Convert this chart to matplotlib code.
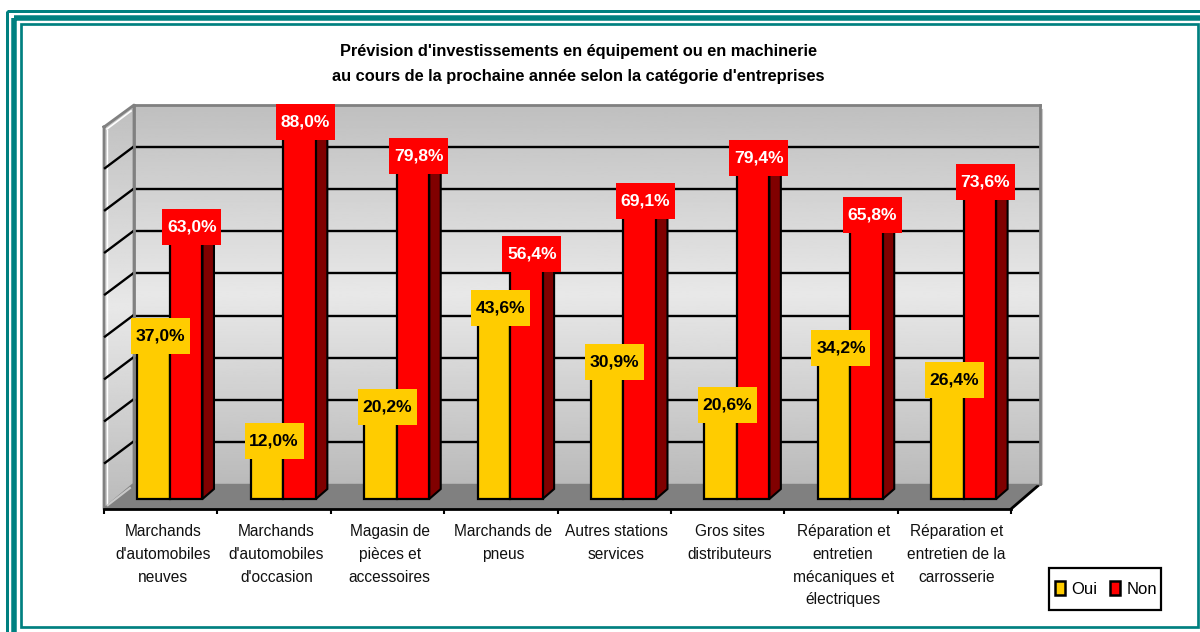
import numpy as np
import matplotlib
matplotlib.use('Agg')
import matplotlib.pyplot as plt
from matplotlib.patches import Rectangle, Polygon
from matplotlib.path import Path

plt.rcParams['font.family'] = ['Liberation Sans', 'DejaVu Sans']

# data
categories = ["Marchands\nd'automobiles\nneuves", "Marchands\nd'automobiles\nd'occasion",
              "Magasin de\npièces et\naccessoires", "Marchands de\npneus",
              "Autres stations\nservices", "Gros sites\ndistributeurs",
              "Réparation et\nentretien\nmécaniques et\nélectriques",
              "Réparation et\nentretien de la\ncarrosserie"]
oui = [37.0, 12.0, 20.2, 43.6, 30.9, 20.6, 34.2, 26.4]
non = [63.0, 88.0, 79.8, 56.4, 69.1, 79.4, 65.8, 73.6]
wall_ticks = [0, 10, 20, 30, 40, 50, 60, 70, 80, 90]
title = "Prévision d'investissements en équipement ou en machinerie\nau cours de la prochaine année selon la catégorie d'entreprises"

W, H = 1200, 632
YELLOW = '#FFCC00'
RED = '#FF0000'
DARK = '#800000'
TEAL = '#008080'
GREY = '#808080'

def pos(x0, x1, ytop, ybot):
    # pixel box to figure fractions
    return [x0 / W, 1 - ybot / H, (x1 - x0) / W, (ybot - ytop) / H]

def label_box(x0, y0, width, height, mutation_size):
    # data labels are 59x36 px whatever the text is
    cx = x0 + width / 2
    cy = y0 + height / 2
    a, b = cx - 29.5, cx + 29.5
    c, d = cy - 18, cy + 18
    return Path([(a, c), (b, c), (b, d), (a, d), (a, c)], closed=True)

fig = plt.figure(figsize=(12, 6.32), dpi=100, facecolor='white')

# background in pixels: frame, floor, side wall
bg = fig.add_axes([0, 0, 1, 1], zorder=0)
bg.set_xlim(0, W)
bg.set_ylim(H, 0)
bg.axis('off')

for x0, y0, x1, y1, lw in [(7, 10.7, 1220, 650, 3), (13.5, 17.5, 1220, 634, 5.5), (20.5, 24.3, 1197.5, 627, 2.7)]:
    bg.add_patch(Rectangle((x0, y0), x1 - x0, y1 - y0, fill=False, ec=TEAL, lw=lw * 0.72))

# gradient used by the walls
stops = np.array([0.75, 0.91, 0.73])
grad = np.interp(np.linspace(0, 1, 256), [0, 0.5, 1], stops).reshape(-1, 1)

side = bg.imshow(grad, cmap='gray', vmin=0, vmax=1, aspect='auto', extent=(104, 134, 509, 105), zorder=1)
side_poly = Polygon([(104, 127), (134, 105), (134, 484), (104, 509)], closed=True, fc='none', ec='none')
bg.add_patch(side_poly)
side.set_clip_path(side_poly)
bg.set_xlim(0, W)
bg.set_ylim(H, 0)
bg.plot([104, 134, 134, 104, 104], [127, 105, 484, 509, 127], color=GREY, lw=2, zorder=3)
bg.plot([107, 131], [129, 111], color='white', lw=1.2, zorder=3)
bg.plot([106.5, 106.5], [130, 505], color='white', lw=1, zorder=3)
bg.plot([108, 130], [505, 488], color='#c8c8c8', lw=1.5, zorder=3)

# floor
bg.add_patch(Polygon([(104, 509), (134, 484), (1040, 484), (1011, 509)], closed=True, fc=GREY, ec='none', zorder=2))
bg.plot([1011, 1040], [509, 484], color='black', lw=2, zorder=4)

# back wall
wall = fig.add_axes(pos(134, 1040, 105, 484), zorder=1)
wall.imshow(grad, cmap='gray', vmin=0, vmax=1, aspect='auto', extent=(0, 1, 0, 90), zorder=0)
wall.set_xlim(0, 1)
wall.set_ylim(0, 90)
wall.set_xticks([])
wall.set_yticks(wall_ticks[1:-1])
wall.tick_params(length=0, labelleft=False)
wall.grid(axis='y', color='black', lw=1.7, zorder=1)
for s in wall.spines.values():
    s.set_color(GREY)
    s.set_linewidth(2)
wall.spines['bottom'].set_linewidth(1)
bg.plot([1042, 1042], [110, 484], color='#c8c8c8', lw=1.5, zorder=1)

# side wall gridlines follow the same ticks
for t in wall_ticks[1:-1]:
    yb = 484 - t * 379 / 90
    bg.plot([105, 133], [yb + 21, yb], color='black', lw=1.7, zorder=3)

# bars, data units
px_y = 4.2
ax = fig.add_axes(pos(104, 1011, 105, 509), zorder=2)
ax.patch.set_alpha(0)
ax.set_xlim(-0.5, 7.5)
ax.set_ylim(-10 / px_y, 394 / px_y)
x = np.arange(len(categories))
w = 32.5 / 113.4
off = 9.3 / 113.4
dx = 11.5 / 113.4
dy = 10 / px_y

for xi, v in zip(x, non):
    r = xi + off + w
    ax.fill([r, r + dx, r + dx, r], [0, dy, v + dy, v], fc=DARK, ec='black', lw=1.5, zorder=2)
b1 = ax.bar(x + off - w / 2, oui, w, color=YELLOW, edgecolor='black', lw=1.6, zorder=3, label='Oui')
b2 = ax.bar(x + off + w / 2, non, w, color=RED, edgecolor='black', lw=1.6, zorder=3, label='Non')

def lab(v):
    return f'{v:.1f}%'.replace('.', ',')

for xi, v in zip(x, oui):
    ax.annotate(lab(v), (xi + off - w / 2, v), xytext=(5.0, 5.5), textcoords='offset points', ha='center', va='center',
                fontsize=12.6, fontweight='bold', color='black', zorder=5,
                bbox=dict(boxstyle=label_box, fc=YELLOW, ec='none'))
for xi, v in zip(x, non):
    ax.annotate(lab(v), (xi + off + w / 2, v), xytext=(4.0, 5.5), textcoords='offset points', ha='center', va='center',
                fontsize=12.6, fontweight='bold', color='white', zorder=5,
                bbox=dict(boxstyle=label_box, fc=RED, ec='none'))

for s in ['top', 'left', 'right']:
    ax.spines[s].set_visible(False)
ax.spines['bottom'].set_linewidth(2)
ax.set_yticks([])
ax.set_xticks(x + 0.02)
ax.set_xticklabels(categories, fontsize=11.2, color='#111111', linespacing=1.64)
ax.tick_params(axis='x', which='major', length=0, pad=11)
ax.set_xticks(np.arange(-0.5, 8, 1), minor=True)
ax.tick_params(axis='x', which='minor', length=3.5, width=1.5, color='black')

fig.text(578.5 / W, 1 - 64 / H, title, ha='center', va='center', fontsize=11.75, fontweight='bold', linespacing=1.88)

bg.add_patch(Rectangle((1048.5, 567.5), 112, 42, fc='white', ec='black', lw=1.6, zorder=5))
leg = fig.legend(handles=[b1, b2], loc='center', bbox_to_anchor=(1106 / W, 1 - 589 / H), ncol=2, fontsize=12,
                 frameon=False, handlelength=0.6, handleheight=0.85,
                 handletextpad=0.4, columnspacing=0.75, borderpad=0, borderaxespad=0)
for h in leg.legend_handles:
    h.set_linewidth(1.8)

fig.savefig('out.png', dpi=100)
